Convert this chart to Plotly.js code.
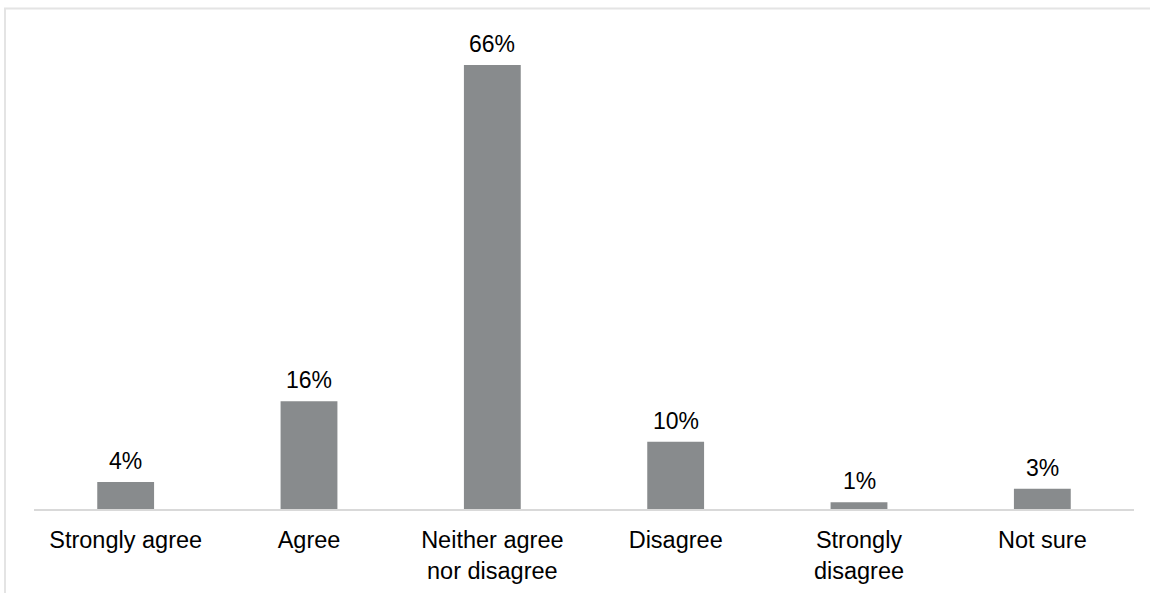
<!DOCTYPE html>
<html>
<head>
<meta charset="utf-8">
<script src="https://cdn.plot.ly/plotly-3.0.1.min.js"></script>
<style>
html,body{margin:0;padding:0;background:#fff;}
#chart{width:1150px;height:593px;}
</style>
</head>
<body>
<div id="chart"></div>
<script>
const categories = ["Strongly agree","Agree","Neither agree nor disagree","Disagree","Strongly disagree","Not sure"];
const tickLabels = ["Strongly agree","Agree","Neither agree<br>nor disagree","Disagree","Strongly<br>disagree","Not sure"];
const values = [4,16,66,10,1,3];

const W = 1150, H = 593;
const mL = 34, mR = 16, mT = 38, mB = 84;
const pw = W - mL - mR, ph = H - mT - mB;
const px2x = p => (p - mL) / pw;
const py2y = p => (H - mB - p) / ph;

const trace = {
  type: 'bar',
  x: categories,
  y: values,
  marker: {color: '#888b8d'},
  hoverinfo: 'skip'
};

const annotations = categories.map((c, i) => ({
  x: c, y: values[i], xref: 'x', yref: 'y',
  text: values[i] + '%',
  showarrow: false, yanchor: 'bottom', yshift: 6,
  font: {family: 'Liberation Sans, Arial, sans-serif', size: 23, color: '#000'}
}));

const layout = {
  width: W, height: H,
  margin: {l: mL, r: mR, t: mT, b: mB, pad: 0},
  paper_bgcolor: '#fff', plot_bgcolor: '#fff',
  bargap: 0.69,
  showlegend: false,
  font: {family: 'Liberation Sans, Arial, sans-serif', size: 23.5, color: '#000'},
  xaxis: {
    type: 'category',
    tickvals: categories, ticktext: tickLabels,
    showline: true, linecolor: '#d9d9d9', linewidth: 2,
    ticks: '', showgrid: false, zeroline: false,
    tickfont: {family: 'Liberation Sans, Arial, sans-serif', size: 23.5, color: '#000'},
    ticklabelstandoff: 9,
    fixedrange: true
  },
  yaxis: {
    range: [0, 70], visible: false, showgrid: false, zeroline: false, fixedrange: true
  },
  annotations: annotations,
  shapes: [
    {type: 'line', xref: 'paper', yref: 'paper', x0: px2x(4), x1: px2x(1150), y0: py2y(8.5), y1: py2y(8.5), line: {color: '#e4e4e4', width: 2}},
    {type: 'line', xref: 'paper', yref: 'paper', x0: px2x(5), x1: px2x(5), y0: py2y(8), y1: py2y(593), line: {color: '#e4e4e4', width: 2}}
  ]
};

Plotly.newPlot('chart', [trace], layout, {displayModeBar: false, staticPlot: true});
</script>
</body>
</html>
